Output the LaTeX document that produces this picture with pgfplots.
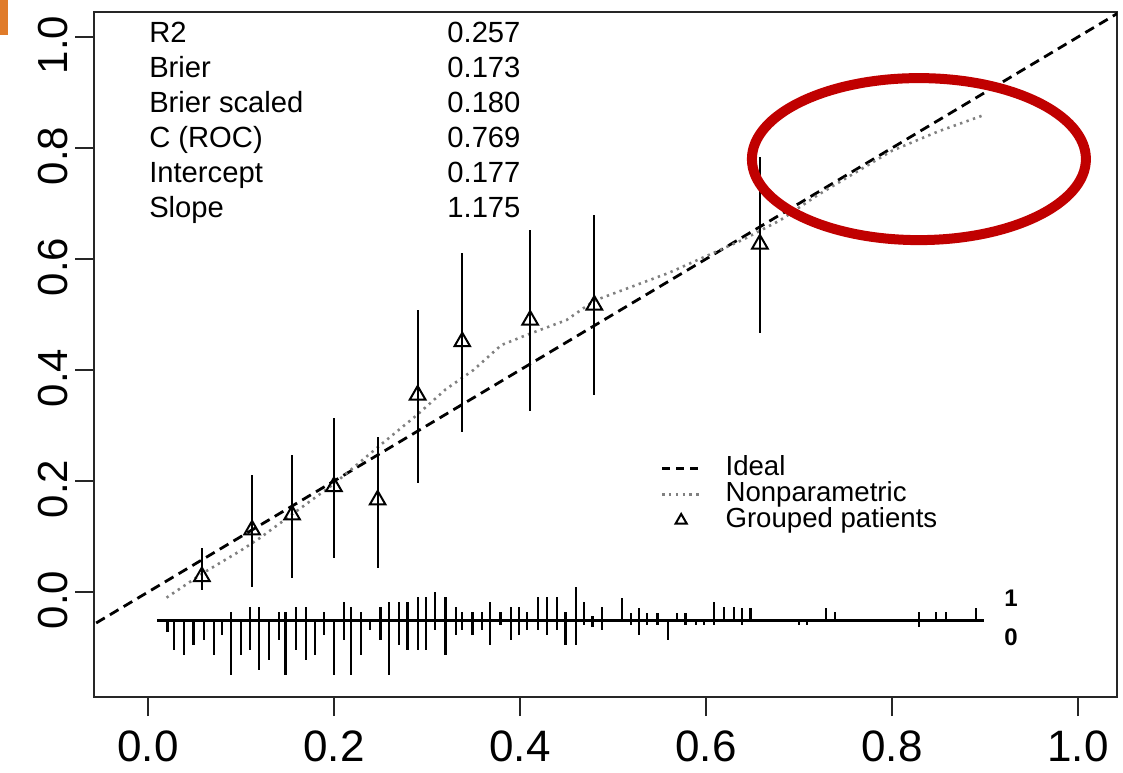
\documentclass[border=0pt]{standalone}
\usepackage{fontspec}
\setmainfont{Liberation Sans}
\usepackage{pgfplots}
\pgfplotsset{compat=1.18}
\usepackage{pgfplotstable}

\definecolor{ellred}{HTML}{C00000}
\definecolor{cornerorange}{HTML}{E07B2A}
\tikzset{stat/.style={inner sep=0pt, font=\fontsize{14.6}{14.6}\selectfont}}

% grouped patients: observed proportion and CI half-widths
\pgfplotstableread{
x     y     ep    em
0.058 0.028 0.051 0.024
0.112 0.112 0.099 0.102
0.155 0.139 0.108 0.114
0.200 0.190 0.123 0.129
0.247 0.166 0.114 0.122
0.290 0.355 0.153 0.159
0.338 0.451 0.159 0.162
0.411 0.490 0.162 0.164
0.480 0.517 0.162 0.162
0.658 0.627 0.156 0.160
}\groups

% nonparametric calibration curve
\pgfplotstableread{
x    y
0.02 -0.010
0.06 0.035
0.10 0.075
0.12 0.097
0.155 0.140
0.20 0.195
0.25 0.265
0.29 0.320
0.32 0.365
0.35 0.400
0.38 0.445
0.41 0.465
0.45 0.490
0.48 0.525
0.52 0.550
0.56 0.575
0.60 0.605
0.64 0.635
0.68 0.670
0.72 0.715
0.76 0.755
0.80 0.795
0.85 0.830
0.90 0.860
}\nonpar

% spike histogram: events up, non-events down
\pgfplotstableread{
x     y      up    dn
0.021 -0.051 0     0.020
0.028 -0.051 0     0.053
0.039 -0.051 0     0.062
0.049 -0.051 0     0.044
0.060 -0.051 0     0.035
0.071 -0.051 0     0.062
0.080 -0.051 0     0.026
0.089 -0.051 0.016 0.098
0.100 -0.051 0     0.062
0.110 -0.051 0.025 0.053
0.119 -0.051 0.025 0.089
0.130 -0.051 0     0.071
0.141 -0.051 0.016 0.035
0.148 -0.051 0.016 0.098
0.159 -0.051 0.025 0.053
0.170 -0.051 0.025 0.071
0.180 -0.051 0     0.062
0.189 -0.051 0.016 0.026
0.200 -0.051 0     0.098
0.211 -0.051 0.034 0.035
0.218 -0.051 0.025 0.098
0.229 -0.051 0.016 0.062
0.239 -0.051 0     0.017
0.250 -0.051 0.025 0.035
0.259 -0.051 0.034 0.098
0.270 -0.051 0.034 0.044
0.279 -0.051 0.034 0.053
0.290 -0.051 0.043 0.053
0.299 -0.051 0.043 0.053
0.309 -0.051 0.052 0.017
0.320 -0.051 0.043 0.062
0.331 -0.051 0.025 0.026
0.338 -0.051 0.016 0.017
0.349 -0.051 0.016 0.026
0.359 -0.051 0.016 0.017
0.368 -0.051 0.034 0.044
0.379 -0.051 0.016 0.008
0.390 -0.051 0.025 0.035
0.399 -0.051 0.025 0.026
0.408 -0.051 0.016 0.017
0.419 -0.051 0.043 0.017
0.429 -0.051 0.043 0.026
0.440 -0.051 0.043 0.017
0.449 -0.051 0.016 0.044
0.460 -0.051 0.061 0.044
0.469 -0.051 0.034 0.008
0.478 -0.051 0.008 0.011
0.488 -0.051 0.025 0.017
0.510 -0.051 0.040 0
0.519 -0.051 0.013 0.008
0.528 -0.051 0.022 0.026
0.537 -0.051 0.013 0.008
0.548 -0.051 0.013 0.008
0.559 -0.051 0     0.035
0.569 -0.051 0.013 0
0.578 -0.051 0.013 0.008
0.589 -0.051 0     0.008
0.598 -0.051 0     0.008
0.609 -0.051 0.034 0.008
0.619 -0.051 0.025 0
0.630 -0.051 0.025 0
0.639 -0.051 0.022 0.008
0.648 -0.051 0.022 0
0.700 -0.051 0     0.008
0.709 -0.051 0     0.008
0.729 -0.051 0.022 0
0.739 -0.051 0.016 0
0.829 -0.051 0.016 0.011
0.847 -0.051 0.016 0
0.858 -0.051 0.016 0
0.890 -0.051 0.022 0
}\spikes

\begin{document}
\begin{tikzpicture}
\begin{axis}[
    scale only axis,
    width=511.5pt, height=342.5pt,
    xmin=-0.058, xmax=1.042,
    ymin=-0.189, ymax=1.045,
    xtick={0,0.2,0.4,0.6,0.8,1},
    ytick={0,0.2,0.4,0.6,0.8,1},
    xtick pos=lower, ytick pos=left,
    tick align=outside,
    major tick length=9.5pt,
    axis line style={line width=1.3pt, black!85},
    every tick/.style={line width=1.1pt, black!85},
    xticklabel style={font=\fontsize{22}{22}\selectfont, yshift=-4pt},
    yticklabel style={font=\fontsize{21}{21}\selectfont, rotate=90, anchor=south, xshift=-4pt},
    /pgf/number format/fixed,
    /pgf/number format/fixed zerofill,
    /pgf/number format/precision=1,
    /pgf/number format/assume math mode=true,
    legend cell align=left,
    legend style={draw=none, fill=none, inner sep=0pt,
        at={(axis cs:0.551,0.247)}, anchor=north west,
        font=\fontsize{13.8}{13.8}\selectfont,
        nodes={inner sep=0pt, text height=10pt, text depth=3pt},
        /tikz/column 1/.style={column sep=12pt}},
]
\coordinate (SW) at (rel axis cs:0,0);
\coordinate (NE) at (rel axis cs:1,1);
\coordinate (NW) at (rel axis cs:0,1);

% ideal line
\addplot[forget plot, black, line width=1.4pt, dash pattern=on 5pt off 3pt]
    coordinates {(-0.1,-0.1) (1.1,1.1)};

% nonparametric
\addplot[forget plot, black!50, line width=1.3pt, dash pattern=on 1.2pt off 2.2pt]
    table[x=x, y=y]{\nonpar};

% grouped patients with intervals
\addplot[forget plot, only marks, black, mark=triangle, mark size=4.5pt,
    mark options={line width=1pt, solid},
    error bars/.cd, y dir=both, y explicit, error mark=none,
    error bar style={line width=1.1pt, black}]
    table[x=x, y=y, y error plus=ep, y error minus=em]{\groups};

% spike histogram
\addplot[forget plot, black, line width=1.1pt] coordinates {(0.010,-0.051) (0.899,-0.051)};
\addplot[forget plot, draw=none, mark=none,
    error bars/.cd, y dir=both, y explicit, error mark=none,
    error bar style={line width=1.1pt, black}]
    table[x=x, y=y, y error plus=up, y error minus=dn]{\spikes};

\node[font=\bfseries\fontsize{12}{12}\selectfont] at (axis cs:0.928,-0.011) {1};
\node[font=\bfseries\fontsize{12}{12}\selectfont] at (axis cs:0.928,-0.081) {0};

% statistics block
\node[stat, anchor=base west] at (axis cs:0.001,0.990) {R2};
\node[stat, anchor=base west] at (axis cs:0.001,0.927) {Brier};
\node[stat, anchor=base west] at (axis cs:0.001,0.864) {Brier scaled};
\node[stat, anchor=base west] at (axis cs:0.001,0.801) {C (ROC)};
\node[stat, anchor=base west] at (axis cs:0.001,0.738) {Intercept};
\node[stat, anchor=base west] at (axis cs:0.001,0.675) {Slope};
\node[stat, anchor=base east] at (axis cs:0.401,0.990) {0.257};
\node[stat, anchor=base east] at (axis cs:0.401,0.927) {0.173};
\node[stat, anchor=base east] at (axis cs:0.401,0.864) {0.180};
\node[stat, anchor=base east] at (axis cs:0.401,0.801) {0.769};
\node[stat, anchor=base east] at (axis cs:0.401,0.738) {0.177};
\node[stat, anchor=base east] at (axis cs:0.401,0.675) {1.175};

% legend
\addlegendimage{legend image code/.code={\draw[black, line width=1.4pt, dash pattern=on 4pt off 3pt] (0pt,0pt) -- (19pt,0pt);}}
\addlegendentry{Ideal}
\addlegendimage{legend image code/.code={\draw[black!50, line width=1.2pt, dash pattern=on 1.2pt off 2.2pt] (0pt,0pt) -- (19pt,0pt);}}
\addlegendentry{Nonparametric}
\addlegendimage{legend image code/.code={\draw[black, line width=1pt] plot[mark=triangle, mark size=3.2pt] coordinates {(9.5pt,0pt)};}}
\addlegendentry{Grouped patients}

% highlight ellipse
\draw[ellred, line width=5pt] (axis cs:0.829,0.780) ellipse [x radius=83.5pt, y radius=40.5pt];
\end{axis}
\pgfresetboundingbox
\path ([shift={(-47pt,-37.5pt)}]SW) rectangle ([shift={(3pt,6pt)}]NE);
\fill[cornerorange] ([shift={(-47pt,6pt)}]NW) rectangle ++(4pt,-17.5pt);
\end{tikzpicture}
\end{document}
